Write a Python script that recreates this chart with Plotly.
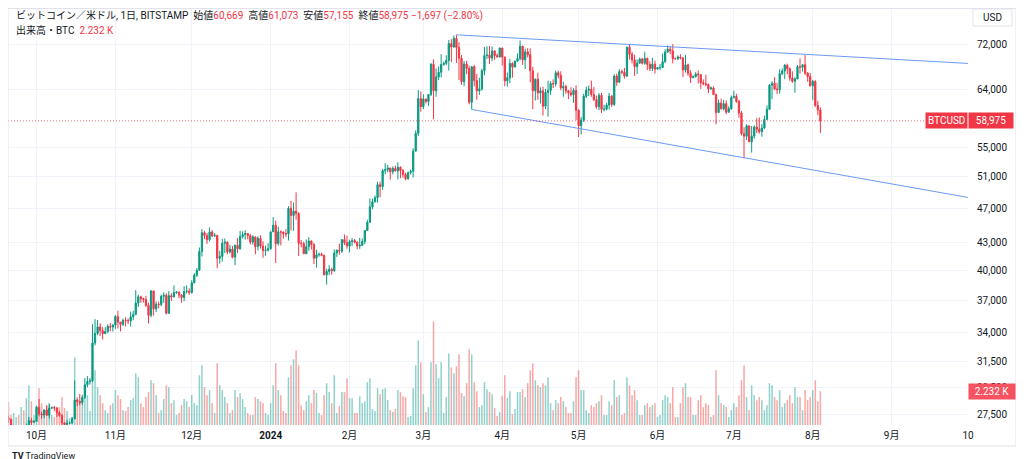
import numpy as np
import pandas as pd
import plotly.graph_objects as go

# ---------------- data (BTC/USD, Bitstamp, daily) ----------------
start_date = "2023-09-20"
first_open_k = 27.21
last_open = 60669

close_k = [
    # Sep 20-30
    27.13, 26.57, 26.58, 26.58, 26.25, 26.30, 26.22, 26.37, 27.03, 26.91, 26.97,
    # Oct
    27.99, 27.50, 27.43, 27.79, 27.41, 27.93, 27.96, 27.94, 27.60, 27.39, 26.87, 26.76, 26.86, 26.86, 27.16, 28.52,
    28.42, 28.33, 28.72, 29.68, 29.92, 29.99, 33.09, 33.92, 34.50, 34.16, 33.90, 34.09, 34.54, 34.48, 34.67,
    # Nov
    35.44, 34.94, 34.73, 35.08, 35.05, 35.04, 35.42, 35.64, 36.70, 37.31, 37.13, 37.07, 36.48, 35.55, 37.88,
    36.16, 36.60, 36.57, 37.36, 37.45, 35.75, 37.42, 37.29, 37.72, 37.79, 37.48, 37.25, 37.83, 37.86, 37.72,
    # Dec
    38.69, 39.47, 39.98, 41.98, 44.08, 43.77, 43.29, 44.17, 43.72, 43.79, 41.24, 41.45, 42.89, 43.02, 41.93, 42.24,
    41.36, 42.66, 42.27, 43.65, 43.87, 43.99, 43.74, 43.02, 43.61, 42.52, 43.44, 42.58, 42.07, 42.14, 42.28,
    # Jan
    44.18, 44.95, 42.85, 44.18, 44.16, 43.97, 43.93, 46.97, 46.11, 46.63, 46.34, 42.89, 42.84, 41.73, 42.51, 43.15,
    42.74, 41.26, 41.62, 41.67, 41.55, 39.51, 39.85, 40.08, 39.93, 41.82, 42.12, 42.03, 43.30, 42.95, 42.58,
    # Feb
    43.08, 43.19, 43.00, 42.58, 42.66, 43.09, 44.34, 45.29, 47.15, 47.77, 48.29, 49.96, 49.70, 51.81, 51.94,
    52.16, 51.66, 52.12, 51.78, 52.28, 51.84, 51.30, 50.74, 51.57, 51.73, 54.52, 57.09, 62.50, 61.20,
    # Mar
    62.44, 62.03, 63.17, 68.33, 63.80, 66.11, 66.93, 68.30, 68.50, 69.02, 72.12, 71.48, 73.10, 71.40, 69.40, 65.30,
    68.40, 67.60, 61.90, 67.90, 65.50, 63.80, 64.10, 67.20, 69.90, 69.99, 69.45, 70.74, 69.90, 69.65, 71.30,
    # Apr
    69.65, 65.46, 65.97, 68.50, 67.84, 68.90, 69.36, 71.62, 69.14, 70.59, 70.06, 67.20, 63.80, 65.74, 63.43,
    63.80, 61.28, 63.51, 63.84, 64.99, 64.93, 66.84, 66.41, 64.28, 64.50, 63.77, 63.46, 63.12, 63.84, 60.64,
    # May
    58.25, 59.12, 62.89, 63.89, 64.03, 63.16, 62.33, 61.19, 63.05, 60.79, 60.81, 61.45, 62.90, 61.55, 66.27, 65.23,
    67.05, 66.94, 66.27, 71.45, 70.14, 69.12, 67.93, 68.53, 69.29, 68.51, 69.39, 68.30, 67.60, 68.35, 67.48,
    # Jun
    67.75, 67.76, 68.80, 70.56, 71.08, 70.76, 69.34, 69.31, 69.65, 69.50, 67.32, 68.24, 66.76, 66.01, 66.19,
    66.64, 66.49, 65.14, 64.96, 64.83, 64.10, 64.26, 63.16, 60.28, 61.80, 60.86, 61.68, 60.32, 60.89, 62.68,
    # Jul
    62.85, 62.03, 60.20, 57.05, 56.66, 58.23, 55.85, 56.70, 58.05, 57.72, 57.34, 57.89, 59.20, 60.79, 64.72, 65.04,
    64.09, 63.97, 66.68, 67.15, 68.17, 67.54, 65.94, 65.37, 65.78, 67.91, 67.81, 68.25, 66.78, 66.19, 64.62,
    # Aug 1-4
    65.36, 61.42, 60.672, 58.975,
]

high_k = [
    27.38, 27.16, 26.74, 26.63, 26.72, 26.43, 26.39, 26.82, 27.31, 27.23, 27.08,
    28.06, 28.59, 27.67, 27.83, 28.12, 28.25, 28.04, 28.10, 27.99, 27.73, 27.48, 26.94, 27.10, 26.97, 27.29, 30.00,
    28.61, 28.98, 28.92, 30.20, 30.35, 30.20, 34.74, 35.20, 35.12, 34.83, 34.48, 34.47, 34.74, 34.85, 34.72,
    35.58, 35.98, 34.94, 35.26, 35.37, 35.28, 35.89, 35.98, 37.97, 37.52, 37.41, 37.23, 37.40, 36.75, 37.97,
    37.93, 36.85, 36.84, 37.52, 37.76, 37.65, 37.86, 37.65, 38.43, 37.89, 37.82, 37.58, 38.36, 38.43, 38.15,
    38.97, 39.68, 40.20, 42.42, 44.49, 44.30, 44.04, 44.70, 44.37, 44.04, 43.80, 42.05, 43.40, 43.43, 43.09, 42.71,
    42.59, 42.75, 43.48, 44.28, 44.24, 44.37, 43.95, 43.94, 43.80, 43.60, 43.68, 43.79, 43.11, 42.61, 42.89,
    44.19, 45.90, 45.50, 44.77, 44.34, 44.20, 44.49, 47.24, 47.90, 47.69, 48.97, 46.50, 43.26, 43.07, 43.32, 43.57,
    43.20, 42.93, 42.18, 41.87, 41.86, 41.65, 40.13, 40.50, 40.26, 42.20, 42.20, 42.84, 43.31, 43.88, 43.74,
    43.28, 43.48, 43.38, 43.12, 43.49, 43.42, 44.37, 45.60, 48.20, 48.15, 48.57, 50.33, 50.36, 52.04, 52.82,
    52.58, 52.22, 52.38, 52.49, 52.95, 52.38, 52.03, 51.53, 51.67, 51.95, 54.90, 57.55, 63.90, 63.68,
    63.20, 62.42, 63.20, 68.55, 69.20, 67.60, 67.99, 70.15, 68.80, 69.95, 72.79, 72.95, 73.65, 73.79, 72.40, 70.00,
    68.90, 68.94, 68.10, 68.06, 68.25, 66.65, 65.98, 67.55, 71.50, 71.60, 71.70, 71.55, 70.90, 70.30, 71.36,
    71.30, 69.68, 66.90, 69.28, 68.70, 69.00, 70.30, 72.70, 71.74, 71.17, 71.25, 71.23, 67.90, 65.85, 66.86,
    64.36, 64.47, 64.10, 65.48, 65.40, 65.70, 67.24, 67.20, 67.10, 65.30, 64.80, 63.90, 64.38, 64.20, 64.70,
    60.80, 59.60, 63.30, 64.50, 64.65, 65.50, 64.40, 62.98, 63.40, 63.45, 61.50, 61.80, 63.45, 63.10, 66.60, 66.70,
    67.45, 67.40, 67.70, 71.50, 71.95, 70.60, 70.05, 69.20, 69.55, 69.50, 70.60, 69.55, 68.85, 69.50, 69.00,
    67.85, 68.40, 70.25, 71.06, 71.75, 71.60, 72.00, 69.55, 69.95, 70.15, 69.55, 70.00, 68.45, 67.30, 66.40,
    66.95, 67.25, 66.60, 65.70, 66.50, 65.00, 64.50, 64.50, 63.30, 62.35, 62.50, 62.30, 62.20, 61.25, 63.00,
    63.80, 63.30, 62.30, 60.50, 58.00, 58.45, 58.20, 58.20, 58.30, 59.40, 59.50, 58.50, 59.80, 61.40, 64.90, 65.40,
    66.10, 65.10, 67.45, 67.60, 68.40, 68.45, 67.80, 67.10, 66.10, 68.20, 69.40, 68.30, 70.00, 66.95, 66.80,
    65.60, 65.55, 62.15, 61.073,
]

low_k = [
    26.89, 26.36, 26.49, 26.52, 26.15, 26.00, 26.11, 26.11, 26.34, 26.67, 26.89,
    26.95, 27.33, 27.16, 27.21, 27.37, 27.18, 27.85, 27.71, 27.29, 27.30, 26.56, 26.56, 26.70, 26.81, 26.82, 27.12,
    28.10, 28.14, 28.17, 28.60, 29.48, 29.69, 29.88, 32.88, 33.76, 33.70, 33.38, 33.86, 33.94, 34.10, 34.08,
    34.32, 34.36, 34.10, 34.58, 34.54, 34.75, 34.53, 35.13, 35.56, 36.34, 36.73, 36.75, 36.34, 34.80, 35.37,
    35.53, 35.87, 36.21, 36.40, 36.73, 35.63, 35.68, 36.91, 37.26, 37.60, 37.17, 36.75, 36.89, 37.62, 37.50,
    37.62, 38.65, 39.28, 39.98, 41.44, 43.35, 42.82, 43.09, 43.60, 43.59, 40.20, 40.68, 40.88, 41.80, 41.67, 41.77,
    41.24, 40.52, 41.82, 42.19, 43.42, 43.28, 43.32, 42.78, 42.72, 41.68, 42.10, 42.30, 41.30, 41.52, 41.97,
    42.20, 44.17, 40.75, 42.63, 42.65, 43.40, 43.58, 43.20, 44.35, 44.30, 45.61, 41.50, 42.44, 41.72, 41.72, 42.05,
    42.19, 40.63, 40.26, 41.42, 41.45, 39.44, 38.52, 39.48, 39.52, 39.82, 41.39, 41.63, 41.80, 42.68, 42.28,
    41.88, 42.57, 42.88, 42.22, 42.26, 42.57, 42.79, 44.33, 45.25, 46.84, 47.70, 47.66, 48.35, 49.28, 51.30,
    51.60, 50.62, 51.31, 51.70, 50.65, 50.80, 50.90, 50.52, 50.60, 51.29, 50.90, 54.45, 56.70, 60.40,
    60.81, 61.70, 61.32, 62.90, 59.22, 62.80, 65.58, 66.05, 68.10, 68.20, 67.23, 68.70, 71.36, 68.57, 65.60, 64.78,
    64.54, 66.60, 61.56, 60.76, 64.53, 62.30, 63.10, 63.80, 66.40, 69.30, 68.40, 68.90, 69.10, 69.55, 69.60,
    68.10, 64.55, 64.50, 65.07, 66.00, 67.80, 68.78, 69.05, 68.23, 67.50, 69.57, 65.20, 60.80, 62.20, 62.30,
    61.70, 59.80, 60.82, 59.62, 63.10, 64.25, 64.50, 65.85, 63.88, 62.80, 63.30, 62.40, 62.85, 61.80, 59.10,
    56.55, 56.94, 58.80, 62.60, 62.90, 62.80, 62.10, 60.87, 60.65, 60.20, 60.45, 60.63, 60.75, 61.15, 61.32, 64.60,
    65.10, 66.60, 65.85, 66.10, 69.20, 68.50, 66.30, 66.65, 68.50, 68.30, 68.25, 67.30, 67.15, 67.15, 66.70,
    67.45, 67.30, 67.65, 68.60, 70.40, 70.15, 68.50, 69.25, 69.10, 69.20, 66.10, 66.90, 66.30, 65.10, 65.90,
    66.00, 65.00, 64.10, 64.70, 64.55, 63.40, 63.95, 63.15, 58.45, 60.20, 60.75, 60.60, 60.00, 60.30, 60.70,
    62.50, 61.80, 59.45, 56.80, 53.50, 56.10, 55.80, 54.30, 56.30, 57.15, 57.05, 56.60, 57.75, 59.45, 60.65, 62.40,
    63.90, 63.25, 63.30, 66.45, 65.75, 66.60, 65.45, 65.10, 63.45, 65.75, 66.70, 67.05, 66.45, 65.30, 64.50,
    62.25, 61.15, 59.85, 57.155,
]

volume_btc = [
    1510, 660, 790, 520, 660, 1180, 980, 1770, 2620, 1570, 660,
    1310, 2430, 1440, 980, 1310, 1440, 660, 520, 980, 1180, 1840, 1120, 920, 460, 520, 4460,
    1840, 1570, 1710, 2620, 1970, 920, 2950, 3610, 2490, 1970, 1440, 980, 790, 1310, 1440,
    2300, 1970, 1710, 980, 920, 1180, 1640, 1770, 3410, 3150, 1440, 1180, 1840, 2170, 2950,
    2760, 1970, 790, 980, 1710, 2620, 2490, 1440, 1640, 660, 790, 1310, 1710, 1570, 1180,
    1970, 1440, 1310, 3280, 3940, 2490, 1970, 2300, 1440, 790, 4070, 2620, 2300, 1840, 1440, 790,
    980, 2300, 1840, 2100, 1710, 1180, 790, 660, 660, 1840, 1710, 1570, 1440, 790, 660,
    1440, 2620, 4070, 2300, 1970, 920, 790, 3150, 3940, 4330, 4920, 3940, 1310, 980, 1570, 1970,
    1440, 2300, 2100, 790, 660, 1970, 2760, 2170, 1440, 3280, 790, 1250, 2170, 2170, 3080,
    1770, 1770, 790, 790, 1900, 1440, 1570, 2820, 3080, 1050, 920, 2430, 2030, 2360, 2430,
    1640, 980, 850, 1050, 2300, 2170, 1900, 1840, 520, 590, 2430, 3940, 5580, 4130,
    2030, 850, 1180, 4130, 6820, 4000, 3080, 4130, 790, 1840, 4720, 3800, 3410, 3870, 4660, 2100,
    1900, 2760, 4990, 4660, 2820, 2230, 1180, 1310, 2820, 2360, 2170, 2030, 1120, 590, 850,
    1900, 3280, 1770, 2230, 720, 1050, 2170, 2170, 2360, 1840, 2760, 3610, 4070, 2950, 2620,
    2490, 2760, 2620, 3150, 1440, 980, 1640, 1440, 1840, 1570, 1180, 790, 790, 1570, 3150,
    3610, 2300, 2300, 980, 790, 1310, 1180, 1440, 1570, 1970, 660, 660, 1570, 1310, 2950, 1840,
    1970, 660, 790, 3150, 2620, 1970, 2300, 1640, 660, 660, 1310, 1440, 1180, 1310, 1440,
    520, 660, 1640, 1970, 1840, 1440, 2490, 520, 520, 1440, 2490, 2760, 1840, 1840, 660,
    660, 1640, 1970, 1180, 1440, 1310, 520, 660, 3610, 1970, 1440, 1310, 1180, 520, 980,
    1440, 1180, 1970, 2950, 3940, 1840, 980, 2620, 1970, 1640, 1840, 1640, 980, 1310, 2760, 2620,
    1840, 1640, 2300, 1180, 1440, 1640, 1970, 1440, 2490, 1840, 1840, 980, 2300, 1640, 1840,
    2300, 2950, 1570, 2232,
]

# trend lines (descending broadening channel)
upper_line_dates = ["2024-03-14", "2024-10-01"]
upper_line_prices = [73790, 68490]
lower_line_dates = ["2024-03-20", "2024-10-01"]
lower_line_prices = [60760, 48320]

last_price = 58975
last_volume = 2232

month_ticks = ["2023-10-01", "2023-11-01", "2023-12-01", "2024-01-01", "2024-02-01", "2024-03-01",
               "2024-04-01", "2024-05-01", "2024-06-01", "2024-07-01", "2024-08-01", "2024-09-01",
               "2024-10-01"]
month_labels = ["10月", "11月", "12月", "<b>2024</b>", "2月", "3月", "4月", "5月", "6月", "7月",
                "8月", "9月", "10"]
price_ticks = [27500, 29500, 31500, 34000, 37000, 40000, 43000, 47000, 51000, 55000, 64000, 72000]
price_labels = ["27,500", "29,500", "31,500", "34,000", "37,000", "40,000", "43,000", "47,000",
                "51,000", "55,000", "64,000", "72,000"]

# ---------------- build ----------------
dates = pd.date_range(start_date, periods=len(close_k), freq="D")
close = np.array(close_k) * 1000
open_ = np.concatenate([[first_open_k], close_k[:-1]]) * 1000
open_[-1] = last_open
high = np.maximum(np.array(high_k) * 1000, np.maximum(open_, close))
low = np.minimum(np.array(low_k) * 1000, np.minimum(open_, close))
up = close >= open_

UP = "#089981"
DN = "#F23645"
vol_colors = ["rgba(38,166,154,0.5)" if u else "rgba(239,83,80,0.5)" for u in up]

FONT = "Roboto, 'Noto Sans CJK JP', sans-serif"
TXT = "#131722"

x_range = ["2023-09-19 19:12", "2024-10-01 00:00"]

fig = go.Figure()
fig.add_trace(go.Bar(x=dates, y=volume_btc, marker=dict(color=vol_colors, line=dict(width=0)),
                     width=0.6 * 86400000, xaxis="x", yaxis="y", hoverinfo="skip"))
fig.add_trace(go.Candlestick(x=dates, open=open_, high=high, low=low, close=close,
                             increasing=dict(line=dict(color=UP, width=1), fillcolor=UP),
                             decreasing=dict(line=dict(color=DN, width=1), fillcolor=DN),
                             whiskerwidth=0, xaxis="x", yaxis="y2", hoverinfo="skip"))
fig.add_trace(go.Scatter(x=upper_line_dates, y=upper_line_prices, mode="lines",
                         line=dict(color="#6a9af5", width=1), xaxis="x", yaxis="y2", hoverinfo="skip"))
fig.add_trace(go.Scatter(x=lower_line_dates, y=lower_line_prices, mode="lines",
                         line=dict(color="#6a9af5", width=1), xaxis="x", yaxis="y2", hoverinfo="skip"))
fig.add_trace(go.Scatter(x=x_range, y=[last_price, last_price], mode="lines",
                         line=dict(color="rgba(242,54,69,0.75)", width=1, dash="1px,2px"),
                         xaxis="x", yaxis="y2", hoverinfo="skip"))

# The page body has an 8px default margin: figure origin sits at screen (8, 8).
OFF = 8
W, H = 1016, 451
L, R, T, B = 0, 56, 0, 34
pw, ph = W - L - R, H - T - B


def px_x(sx):
    return (sx - OFF - L) / pw


def px_y(sy):
    return (H - B - (sy - OFF)) / ph


y_lo, y_hi = 26725, 79120
vol_top = 27500

fig.update_layout(
    width=W, height=H, margin=dict(l=L, r=R, t=T, b=B),
    paper_bgcolor="white", plot_bgcolor="white", showlegend=False, hovermode=False,
    font=dict(family=FONT, color=TXT, size=10),
    xaxis=dict(type="date", range=x_range, tickvals=month_ticks, ticktext=month_labels,
               showgrid=True, gridcolor="#f0f3fa", gridwidth=1, zeroline=False, showline=False,
               ticks="", tickfont=dict(size=10, color=TXT), rangeslider=dict(visible=False),
               ticklabelstandoff=3),
    yaxis=dict(range=[0, vol_top], visible=False, showgrid=False, fixedrange=True),
    yaxis2=dict(overlaying="y", side="right", type="log",
                range=[np.log10(y_lo), np.log10(y_hi)], tickvals=price_ticks, ticktext=price_labels,
                showgrid=True, gridcolor="#f0f3fa", zeroline=False, showline=False, ticks="",
                tickfont=dict(size=10, color=TXT), ticklabelstandoff=8),
)

shapes = [
    # outer frame
    dict(type="rect", xref="paper", yref="paper", x0=px_x(8), x1=px_x(1016), y0=px_y(446), y1=px_y(8.5),
         line=dict(color="#e0e3eb", width=1), fillcolor="rgba(0,0,0,0)", layer="above"),
    # USD button
    dict(type="rect", xref="paper", yref="paper", x0=px_x(973), x1=px_x(1012), y0=px_y(26), y1=px_y(9),
         line=dict(color="#e0e3eb", width=1), fillcolor="white", layer="above"),
]
fig.update_layout(shapes=shapes)


def red_val(s):
    return f'<span style="color:{DN}">{s}</span>'


sp = "\u00a0\u00a0"
line1 = ("ビットコイン／米ドル, 1日, BITSTAMP" + sp + "始値" + red_val("60,669") + sp + "高値" +
         red_val("61,073") + sp + "安値" + red_val("57,155") + sp + "終値" + red_val("58,975") + " " +
         red_val("−1,697 (−2.80%)"))
line2 = "出来高・BTC" + sp + red_val("2.232\u00a0K")

annotations = [
    dict(text=line1, xref="paper", yref="paper", x=px_x(14), y=px_y(16), xanchor="left",
         yanchor="middle", showarrow=False, font=dict(size=10, color=TXT)),
    dict(text=line2, xref="paper", yref="paper", x=px_x(14), y=px_y(30), xanchor="left",
         yanchor="middle", showarrow=False, font=dict(size=10, color=TXT)),
    dict(text="USD", xref="paper", yref="paper", x=px_x(992.5), y=px_y(17.5), xanchor="center",
         yanchor="middle", showarrow=False, font=dict(size=10, color=TXT)),
    dict(text="BTCUSD", xref="paper", yref="y2", x=1.0, y=np.log10(last_price), xanchor="right",
         yanchor="middle", showarrow=False, bgcolor=DN, borderpad=2,
         font=dict(size=10, color="white")),
    dict(text="58,975", xref="paper", yref="y2", x=1.0, y=np.log10(last_price), xanchor="left",
         yanchor="middle", showarrow=False, bgcolor=DN, borderpad=2, width=40,
         font=dict(size=10, color="white")),
    dict(text="2.232\u00a0K", xref="paper", yref="y", x=1.0, y=last_volume, xanchor="left",
         yanchor="middle", showarrow=False, bgcolor="#F7525F", borderpad=2, width=42,
         font=dict(size=10, color="white")),
    dict(text="<b>TV</b> TradingView", xref="paper", yref="paper", x=px_x(10), y=px_y(456),
         xanchor="left", yanchor="middle", showarrow=False, font=dict(size=9, color="#131722")),
]
fig.update_layout(annotations=annotations)

fig.write_html("out.html")
